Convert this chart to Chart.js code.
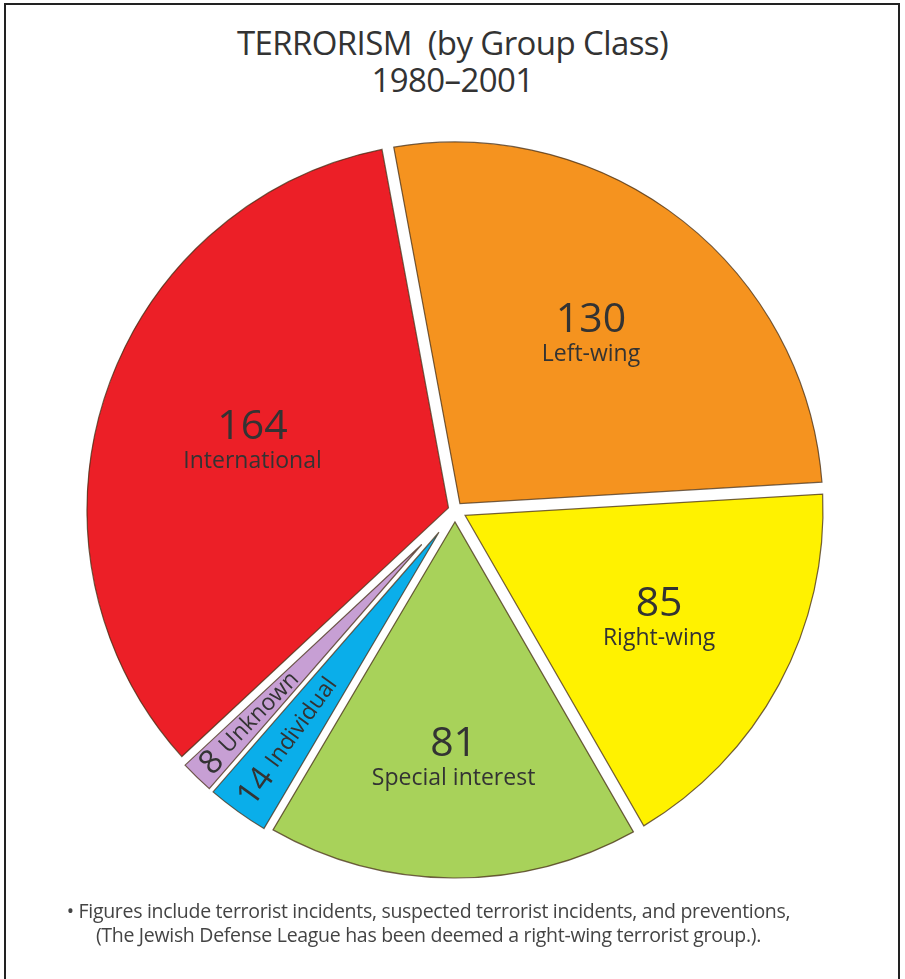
<!DOCTYPE html>
<html>
<head>
<meta charset="utf-8">
<script src="https://cdn.jsdelivr.net/npm/chart.js@4"></script>
<style>
  html, body { margin: 0; padding: 0; background: #fff; }
  body { width: 905px; height: 979px; position: relative; overflow: hidden; font-family: "Open Sans", sans-serif; color: #333; }
  .frame { position: absolute; left: 4px; top: 3px; width: 892px; height: 1000px; border: 2px solid #222; border-bottom: none; }
  .title { position: absolute; left: 0; width: 905px; text-align: center; font-size: 33px; line-height: 37px; color: #333; letter-spacing: -0.6px; }
  .note { position: absolute; left: 0; width: 857px; text-align: center; font-size: 19.5px; line-height: 24px; color: #444; letter-spacing: -0.3px; }
  #wrap { position: absolute; left: 0; top: 0; width: 905px; height: 979px; }
</style>
</head>
<body>
<div class="frame"></div>
<div class="title" style="top:24px">TERRORISM&nbsp;&nbsp;(by Group Class)<br>1980–2001</div>
<div id="wrap"><canvas id="pie"></canvas></div>
<div class="note" style="top:899px">• Figures include terrorist incidents, suspected terrorist incidents, and preventions,<br>(The Jewish Defense League has been deemed a right-wing terrorist group.).</div>
<script>
// data (clockwise, starting with International)
const groups = ["International", "Left-wing", "Right-wing", "Special interest", "Individual", "Unknown"];
const incidents = [164, 130, 85, 81, 14, 8];
const sliceColors = ["#ec1f27", "#f5931f", "#fff200", "#a8d25a", "#0aaeea", "#c79fd4"];

// styling
const gapWidths = [12, 12, 12, 12, 5, 5];          // white gap drawn as slice border
const labelFrac = [0.57, 0.59, 0.62, 0.67, 0, 0];  // 0 = narrow slice, rotated label

// thin dark outline round the visible (inset) part of each slice
const outlinePlugin = {
  id: "outline",
  afterDatasetsDraw(chart) {
    const ctx = chart.ctx;
    const arcs = chart.getDatasetMeta(0).data;
    const n = arcs.length;
    arcs.forEach((arc, i) => {
      const { x, y, startAngle, endAngle, outerRadius } = arc.getProps(["x", "y", "startAngle", "endAngle", "outerRadius"], true);
      const prev = (i - 1 + n) % n, next = (i + 1) % n;
      // a later slice's border also paints over this slice's edge
      const dS = prev > i ? Math.max(gapWidths[i], gapWidths[prev]) / 2 : gapWidths[i] / 2;
      const dE = next > i ? Math.max(gapWidths[i], gapWidths[next]) / 2 : gapWidths[i] / 2;
      const h = (endAngle - startAngle) / 2;
      const m = startAngle + h;
      const px = (dS + dE) / (2 * Math.sin(h));
      const py = (dS - dE) / (2 * Math.cos(h));
      const ax = x + px * Math.cos(m) - py * Math.sin(m);
      const ay = y + px * Math.sin(m) + py * Math.cos(m);
      const r = outerRadius - gapWidths[i] / 2;
      ctx.save();
      ctx.beginPath();
      ctx.moveTo(ax, ay);
      ctx.arc(x, y, r, startAngle + Math.asin(dS / r), endAngle - Math.asin(dE / r));
      ctx.closePath();
      ctx.lineWidth = 1.2;
      ctx.strokeStyle = "rgba(70,45,20,0.75)";
      ctx.lineJoin = "miter";
      ctx.stroke();
      ctx.restore();
    });
  },
};

// value + name inside the slices
const labelPlugin = {
  id: "sliceLabels",
  afterDatasetsDraw(chart) {
    const ctx = chart.ctx;
    chart.getDatasetMeta(0).data.forEach((arc, i) => {
      const { x, y, startAngle, endAngle, outerRadius } = arc.getProps(["x", "y", "startAngle", "endAngle", "outerRadius"], true);
      const mid = (startAngle + endAngle) / 2;
      ctx.save();
      ctx.fillStyle = "#333";
      ctx.textBaseline = "middle";
      if (labelFrac[i] > 0) {
        const px = x + Math.cos(mid) * outerRadius * labelFrac[i];
        const py = y + Math.sin(mid) * outerRadius * labelFrac[i];
        ctx.textAlign = "center";
        ctx.font = "41px 'Open Sans'";
        ctx.fillText(String(incidents[i]), px, py - 16);
        ctx.font = "23px 'Open Sans'";
        ctx.fillText(groups[i], px, py + 18);
      } else {
        // narrow slices: text runs from the rim toward the centre
        const start = outerRadius - 14;
        ctx.translate(x + Math.cos(mid) * start, y + Math.sin(mid) * start);
        ctx.rotate(mid + Math.PI);
        ctx.textAlign = "left";
        ctx.font = "33px 'Open Sans'";
        const num = String(incidents[i]);
        ctx.fillText(num, 0, 1);
        const w = ctx.measureText(num).width;
        ctx.font = "23px 'Open Sans'";
        ctx.fillText(groups[i], w + 8, 0);
      }
      ctx.restore();
    });
  },
};

new Chart(document.getElementById("pie"), {
  type: "pie",
  data: {
    labels: groups,
    datasets: [
      {
        data: incidents,
        backgroundColor: sliceColors,
        borderColor: "#fff",
        borderWidth: gapWidths,
      },
    ],
  },
  options: {
    responsive: true,
    maintainAspectRatio: false,
    animation: false,
    rotation: -133,
    layout: { padding: { left: 75, right: 70, top: 130, bottom: 89 } },
    plugins: {
      legend: { display: false },
      tooltip: { enabled: false },
    },
  },
  plugins: [outlinePlugin, labelPlugin],
});
</script>
</body>
</html>
